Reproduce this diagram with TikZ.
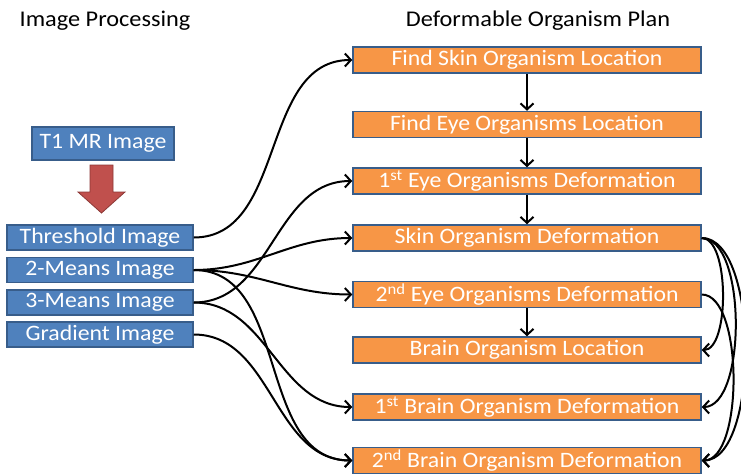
\documentclass[tikz,border=0pt]{standalone}
\usepackage{fontspec}
\setmainfont{Carlito}[FakeStretch=1.08]
\usetikzlibrary{arrows.meta}
\definecolor{bluefill}{HTML}{4F81BD}
\definecolor{blueline}{HTML}{385D8A}
\definecolor{orangefill}{HTML}{F79646}
\definecolor{redfill}{HTML}{C0504D}
\definecolor{redline}{HTML}{8C3836}
\begin{document}
\begin{tikzpicture}[x=1pt,y=-1pt,
  ipbox/.style={draw=blueline, line width=1.5pt, fill=bluefill, text=white,
    font=\fontsize{22}{24}\selectfont, minimum width=186pt, minimum height=25pt, inner sep=0pt},
  planbox/.style={draw=blueline, line width=1.5pt, fill=orangefill, text=white,
    font=\fontsize{22}{24}\selectfont, minimum width=348pt, minimum height=26pt, inner sep=0pt},
  conn/.style={line width=2pt, -{Straight Barb[length=6pt,width=13pt]}},
  titletext/.style={font=\fontsize{22.5}{24}\selectfont, inner sep=0pt}]
\useasboundingbox (0,0) rectangle (741,475);
\fill[white] (0,0) rectangle (741,475);
% titles
\node[titletext] (t1) at (105,21) {Image Processing};
\node[titletext] (t2) at (538,21) {Deformable Organism Plan};
% left boxes
\node[ipbox, minimum width=142pt, minimum height=33pt] (mr) at (103,143.5) {T1 MR Image};
\node[ipbox] (thr) at (100,237.5) {Threshold Image};
\node[ipbox] (m2) at (100,270) {2-Means Image};
\node[ipbox] (m3) at (100,302.5) {3-Means Image};
\node[ipbox] (gr) at (100,334.5) {Gradient Image};
% red block arrow
\draw[draw=redline, fill=redfill, line width=0.8pt]
  (90,165) -- (113,165) -- (113,192) -- (125,192) -- (101.5,213) -- (78,192) -- (90,192) -- cycle;
% right boxes
\node[planbox] (fs) at (527,60) {Find Skin Organism Location};
\node[planbox] (fe) at (527,124.5) {Find Eye Organisms Location};
\node[planbox] (e1) at (527,181) {1\textsuperscript{st} Eye Organisms Deformation};
\node[planbox] (sd) at (527,238) {Skin Organism Deformation};
\node[planbox] (e2) at (527,294.5) {2\textsuperscript{nd} Eye Organisms Deformation};
\node[planbox] (bl) at (527,350) {Brain Organism Location};
\node[planbox] (b1) at (527,407) {1\textsuperscript{st} Brain Organism Deformation};
\node[planbox] (b2) at (527,460.5) {2\textsuperscript{nd} Brain Organism Deformation};
% vertical arrows
\draw[conn] (fs) -- (fe);
\draw[conn] (fe) -- (e1);
\draw[conn] (e1) -- (sd);
\draw[conn] (e2) -- (bl);
% left connectors
\draw[conn] (thr.east) to[out=0,in=180] (fs.west);
\draw[conn] (m3.east) to[out=0,in=180] (e1.west);
\draw[conn] (m2.east) to[out=0,in=180] (sd.west);
\draw[conn] (m2.east) to[out=0,in=180] (e2.west);
\draw[conn] (m3.east) to[out=0,in=180] (b1.west);
\draw[conn] (m2.east) to[out=0,in=180] (b2.west);
\draw[conn] (gr.east) to[out=0,in=180] (b2.west);
% right connectors
\draw[conn] (sd.east) .. controls +(28,0) and +(28,0) .. (bl.east);
\draw[conn] (sd.east) .. controls +(45,0) and +(45,0) .. (b1.east);
\draw[conn] (sd.east) .. controls +(58,0) and +(58,0) .. (b2.east);
\draw[conn] (e2.east) .. controls +(42,0) and +(42,0) .. (b2.east);
\end{tikzpicture}
\end{document}
